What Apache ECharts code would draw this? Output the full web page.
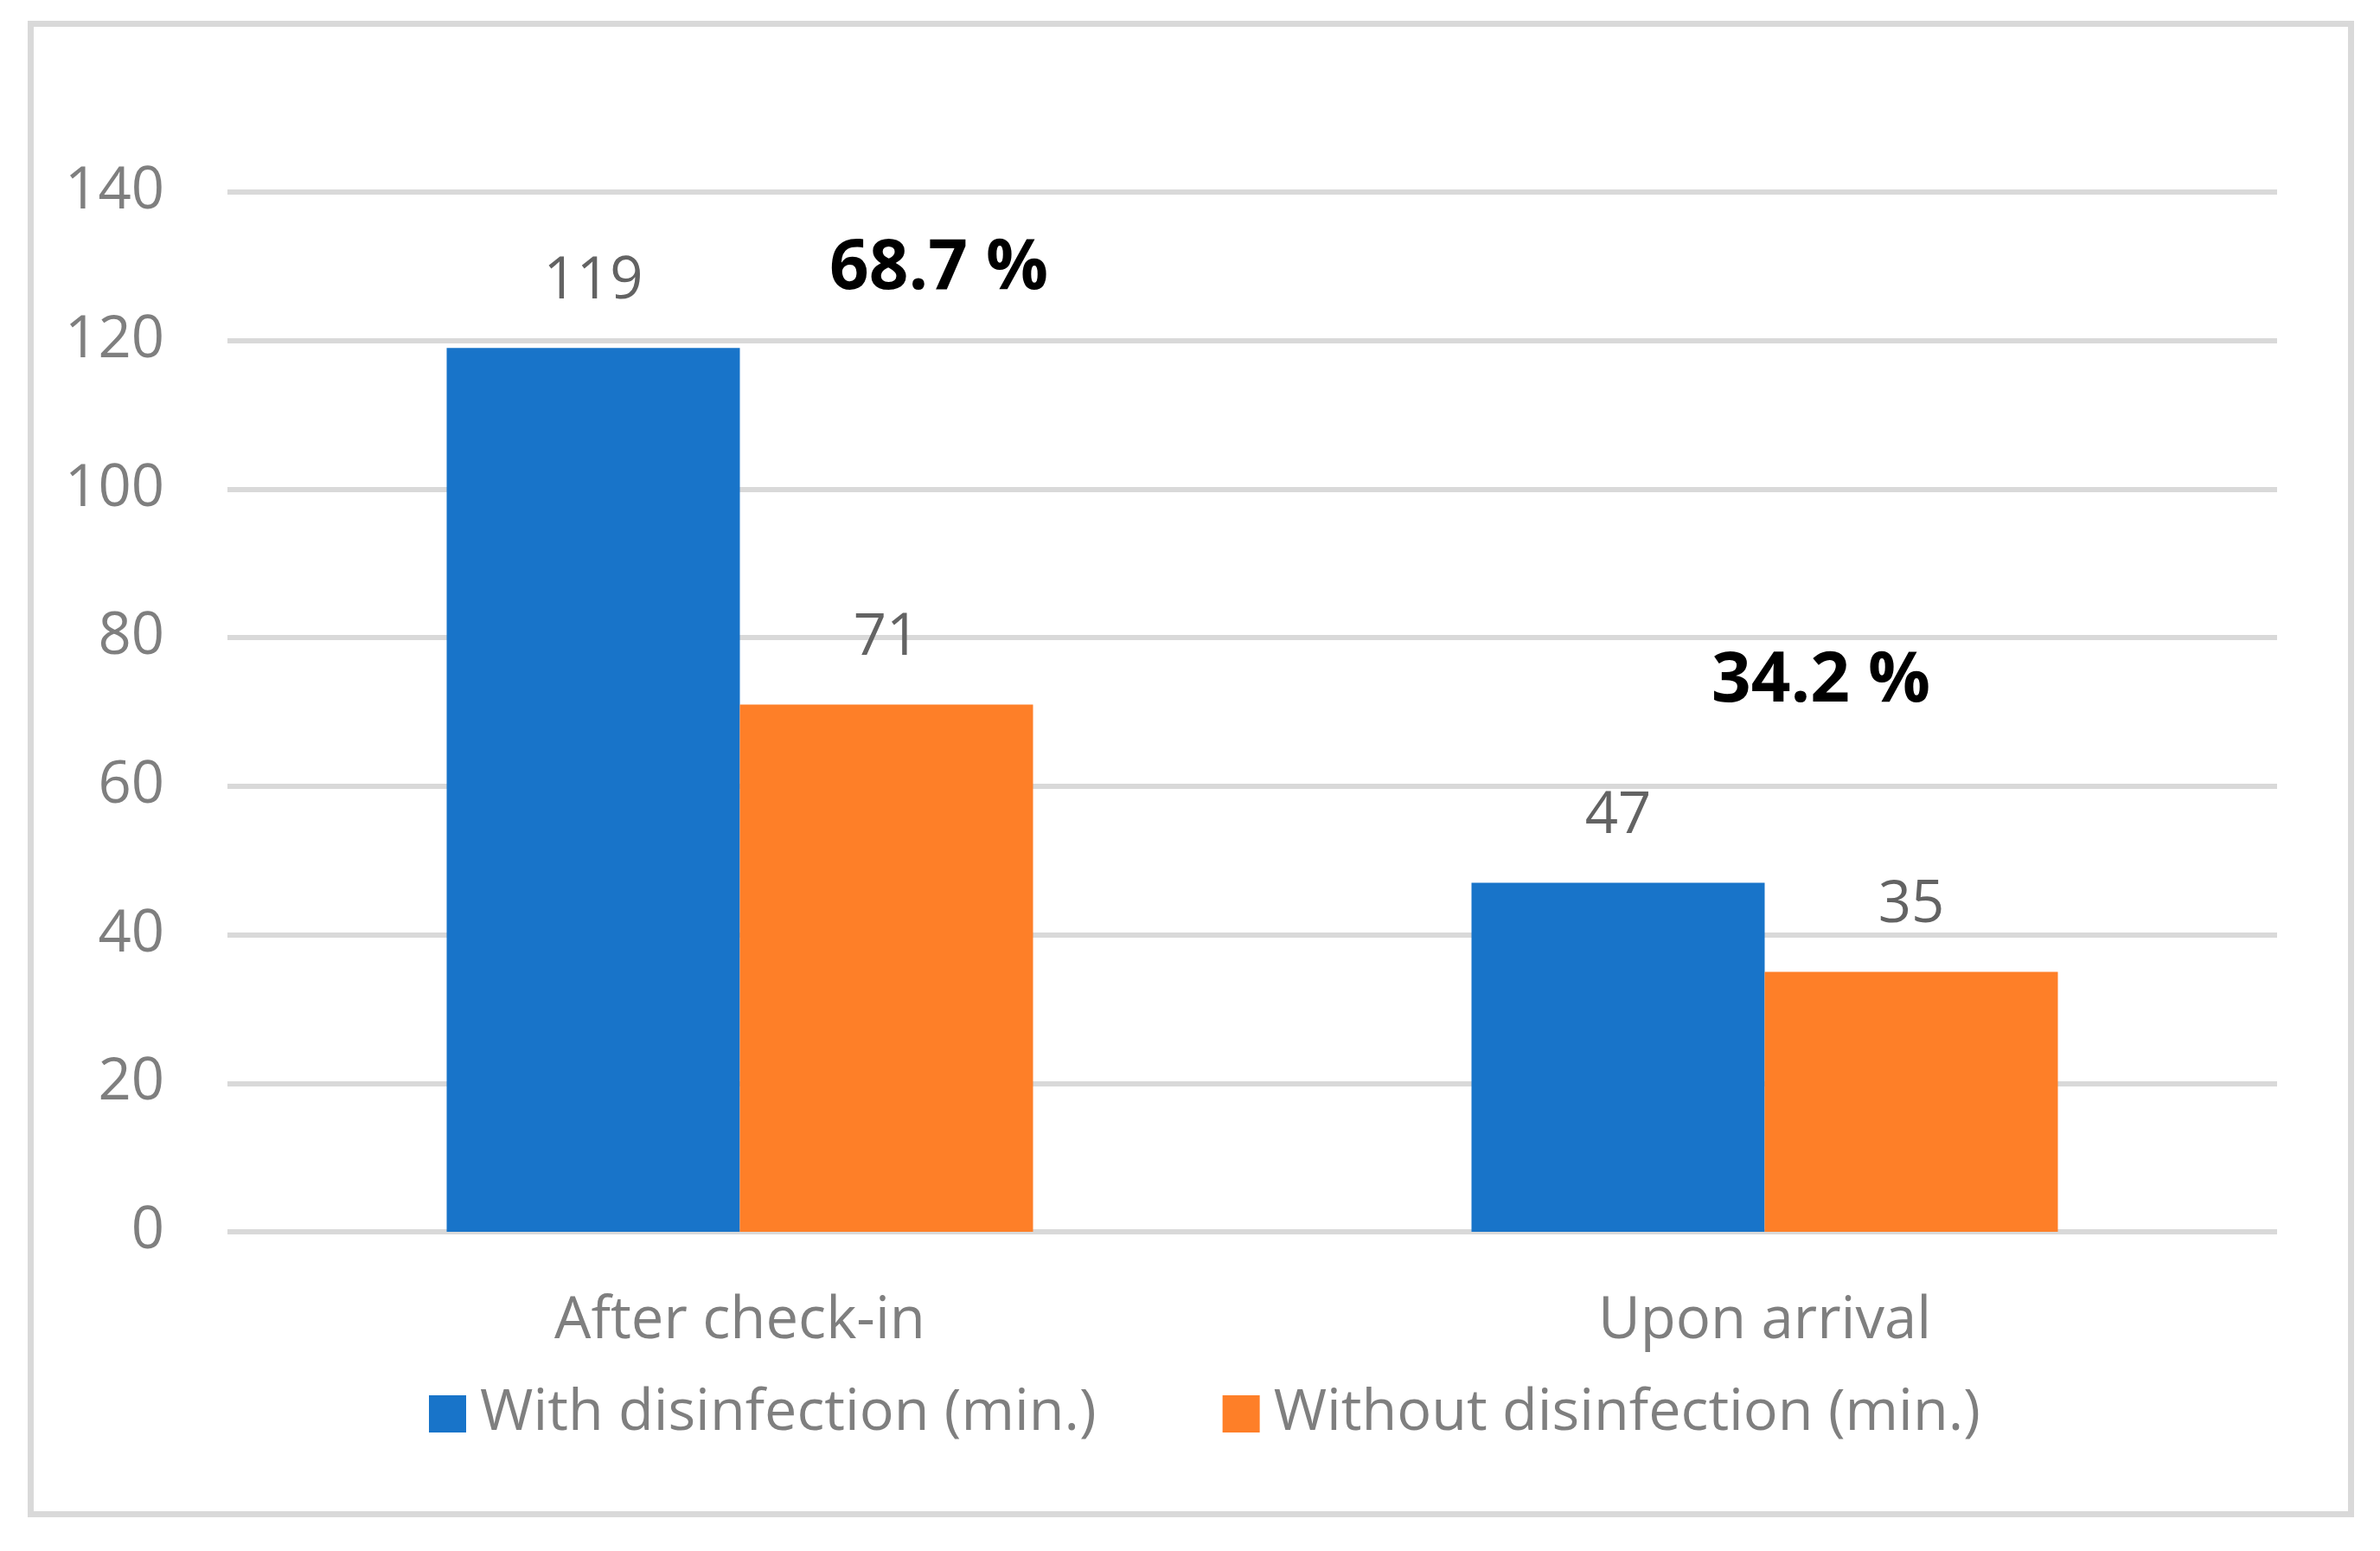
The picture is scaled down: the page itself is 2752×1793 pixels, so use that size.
<!DOCTYPE html>
<html>
<head>
<meta charset="utf-8">
<script src="https://cdn.jsdelivr.net/npm/echarts@6/dist/echarts.min.js"></script>
<style>
html,body{margin:0;padding:0;background:#fff;}
#chart{width:2752px;height:1793px;}
</style>
</head>
<body>
<div id="chart"></div>
<script>
// ---- data ----
const categories = ['After check-in', 'Upon arrival'];
const seriesNames = ['With disinfection (min.)', 'Without disinfection (min.)'];
const withDisinfection = [119, 47];
const withoutDisinfection = [71, 35];
const yTicks = [0, 20, 40, 60, 80, 100, 120, 140];
const pctTexts = ['68.7 %', '34.2 %'];
const pctLevels = [129.6, 74.0];

const FONT = '"Open Sans", "Noto Sans", sans-serif';
const chart = echarts.init(document.getElementById('chart'), null, {renderer: 'canvas'});

const labelStyle = {
  show: true,
  position: 'top',
  distance: 43,
  fontFamily: FONT,
  fontSize: 67,
  color: '#636363'
};

const option = {
  backgroundColor: '#ffffff',
  animation: false,
  grid: {left: 263, right: 119, top: 222, bottom: 369, containLabel: false},
  legend: {
    data: seriesNames,
    left: 491,
    top: 1596,
    itemWidth: 43,
    itemHeight: 43,
    itemGap: 146,
    icon: 'rect',
    textStyle: {fontFamily: FONT, fontSize: 66.5, color: '#7f7f7f', lineHeight: 43, padding: [0, 0, 0, 11]}
  },
  xAxis: {
    type: 'category',
    data: categories,
    axisLine: {show: false},
    axisTick: {show: false},
    axisLabel: {fontFamily: FONT, fontSize: 67, color: '#7f7f7f', margin: 70}
  },
  yAxis: {
    type: 'value',
    min: yTicks[0],
    max: yTicks[yTicks.length - 1],
    interval: yTicks[1] - yTicks[0],
    axisLine: {show: false},
    axisTick: {show: false},
    axisLabel: {fontFamily: FONT, fontSize: 67, color: '#7f7f7f', margin: 73},
    splitLine: {show: true, lineStyle: {color: '#d9d9d9', width: 6}}
  },
  series: [
    {
      name: seriesNames[0],
      type: 'bar',
      data: withDisinfection,
      barWidth: 339,
      barGap: '0%',
      itemStyle: {color: '#1874c9'},
      label: labelStyle
    },
    {
      name: seriesNames[1],
      type: 'bar',
      data: withoutDisinfection,
      barWidth: 339,
      barGap: '0%',
      itemStyle: {color: '#fe7f28'},
      label: labelStyle
    }
  ],
  graphic: [
    {
      type: 'rect',
      shape: {x: 35.5, y: 27.5, width: 2683, height: 1723},
      style: {fill: 'none', stroke: '#d9d9d9', lineWidth: 7},
      silent: true
    }
  ]
};
chart.setOption(option);

// percentage annotations, anchored via the chart's own scales
const pctOffsets = [230, 65];
const pctGraphics = pctTexts.map(function (t, i) {
  const p = chart.convertToPixel({gridIndex: 0}, [i, pctLevels[i]]);
  return {
    type: 'text',
    x: p[0] + pctOffsets[i],
    y: p[1],
    style: {
      text: t,
      fontFamily: FONT,
      fontWeight: 'bold',
      fontSize: 80,
      fill: '#000000',
      align: 'center',
      verticalAlign: 'middle'
    },
    silent: true
  };
});
chart.setOption({graphic: option.graphic.concat(pctGraphics)});
</script>
</body>
</html>
